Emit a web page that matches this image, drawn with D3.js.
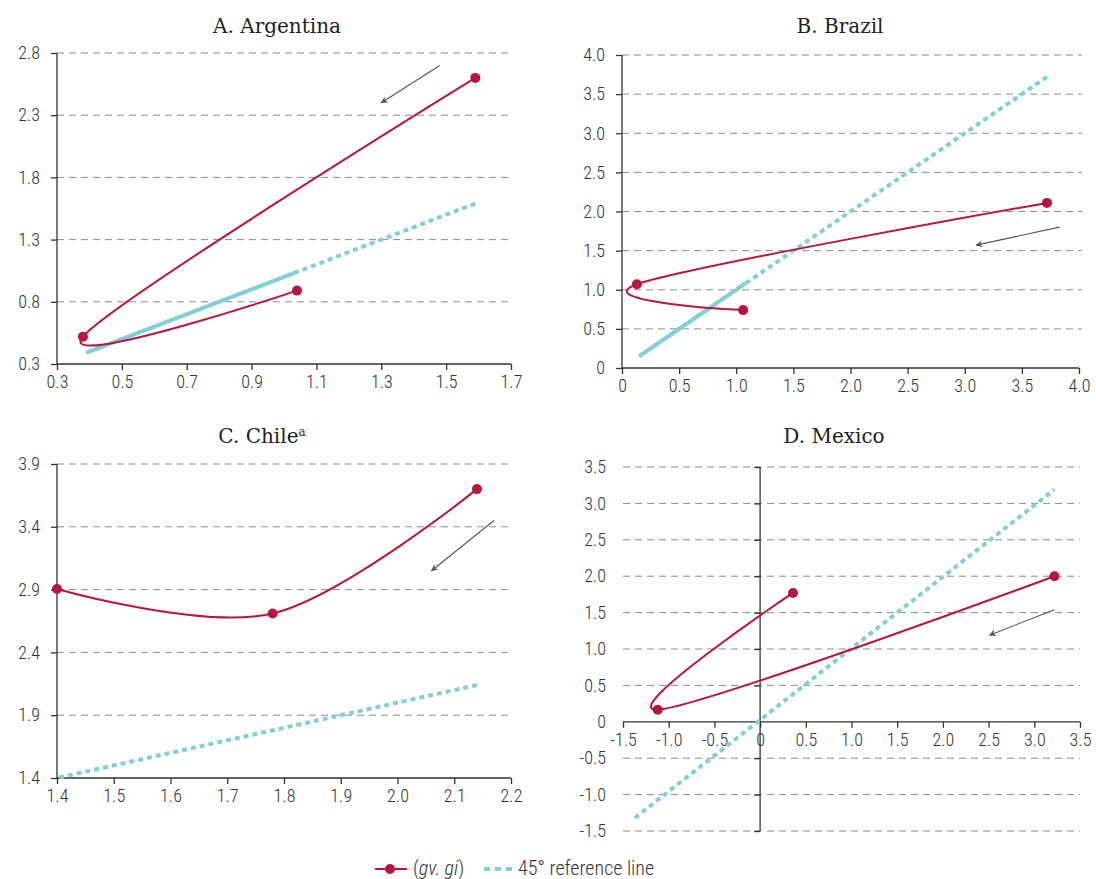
<!DOCTYPE html>
<html>
<head>
<meta charset="utf-8">
<script src="https://cdn.jsdelivr.net/npm/d3@7"></script>
<style>
  html, body { margin: 0; padding: 0; background: #fff; }
  svg { display: block; }
  .tick text { font-family: "Liberation Sans Narrow", "Roboto Condensed", "Roboto", "Liberation Sans", sans-serif; font-size: 18px; font-weight: 300; fill: #333; }
  .title { font-family: "DejaVu Serif", "Liberation Serif", serif; font-size: 20px; fill: #222; }
  .legend { font-family: "Liberation Sans Narrow", "Roboto Condensed", "Roboto", "Liberation Sans", sans-serif; font-size: 20px; font-weight: 300; fill: #333; }
</style>
</head>
<body>
<svg id="chart" width="1096" height="879"></svg>
<script>
// ---------- data ----------
const panelTitles = ["A. Argentina", "B. Brazil", "C. Chile", "D. Mexico"];
const seriesNames = ["(gv. gi)", "45° reference line"];

// A. Argentina
const argX = [1.59, 0.38, 1.04];
const argY = [2.60, 0.52, 0.89];
const argRefX = [1.59, 0.39, 1.04];
const argRefY = [1.59, 0.39, 1.04];
const argXTicks = [0.3, 0.5, 0.7, 0.9, 1.1, 1.3, 1.5, 1.7];
const argYTicks = [0.3, 0.8, 1.3, 1.8, 2.3, 2.8];
const argArrow = [[1.48, 2.70], [1.30, 2.40]];

// B. Brazil
const brzX = [3.72, 0.13, 1.06];
const brzY = [2.11, 1.07, 0.74];
const brzRefX = [3.72, 0.15, 1.08];
const brzRefY = [3.72, 0.15, 1.08];
const brzXTicks = [0, 0.5, 1.0, 1.5, 2.0, 2.5, 3.0, 3.5, 4.0];
const brzYTicks = [0, 0.5, 1.0, 1.5, 2.0, 2.5, 3.0, 3.5, 4.0];
const brzArrow = [[3.83, 1.80], [3.10, 1.57]];

// C. Chile
const chlX = [2.14, 1.78, 1.40];
const chlY = [3.70, 2.71, 2.905];
const chlRefX = [2.14, 1.78, 1.40];
const chlRefY = [2.14, 1.78, 1.40];
const chlXTicks = [1.4, 1.5, 1.6, 1.7, 1.8, 1.9, 2.0, 2.1, 2.2];
const chlYTicks = [1.4, 1.9, 2.4, 2.9, 3.4, 3.9];
const chlArrow = [[2.17, 3.45], [2.06, 3.05]];

// D. Mexico
const mexX = [3.22, -1.12, 0.36];
const mexY = [2.00, 0.165, 1.77];
const mexRefX = [-1.37, 3.22];
const mexRefY = [-1.32, 3.19];
const mexXTicks = [-1.5, -1.0, -0.5, 0, 0.5, 1.0, 1.5, 2.0, 2.5, 3.0, 3.5];
const mexYTicks = [-1.5, -1.0, -0.5, 0, 0.5, 1.0, 1.5, 2.0, 2.5, 3.0, 3.5];
const mexArrow = [[3.22, 1.54], [2.51, 1.19]];

// ---------- style ----------
const RED = "#b8163f";
const CYAN = "#82cfd8";
const GRID = "#8c8c8c";
const AXIS = "#333";
const DASH_ON = 5, DASH_OFF = 4;
const fmt = v => (v === 0 ? "0" : d3.format(".1f")(v).replace("\u2212", "-"));

const svg = d3.select("#chart");
const defs = svg.append("defs");
defs.append("marker")
  .attr("id", "arrowhead")
  .attr("viewBox", "0 0 10 10")
  .attr("refX", 9).attr("refY", 5)
  .attr("markerWidth", 9).attr("markerHeight", 7)
  .attr("markerUnits", "userSpaceOnUse")
  .attr("orient", "auto")
  .append("path").attr("d", "M0,0 L10,5 L0,10 L3,5 Z").attr("fill", "#555");

function panel(cfg) {
  const g = svg.append("g");
  const x = d3.scaleLinear().domain(cfg.xDomain).range(cfg.xRange);
  const y = d3.scaleLinear().domain(cfg.yDomain).range(cfg.yRange);
  const x0 = cfg.xRange[0], x1 = cfg.xRange[1];
  const yAxisX = cfg.yAxisAt !== undefined ? x(cfg.yAxisAt) : x0;
  const xAxisY = cfg.xAxisAt !== undefined ? y(cfg.xAxisAt) : cfg.yRange[0];

  // grid lines
  g.append("g").selectAll("line")
    .data(cfg.yTicks.filter(v => v !== (cfg.xAxisAt !== undefined ? cfg.xAxisAt : cfg.yDomain[0])))
    .join("line")
    .attr("x1", cfg.gridStart !== undefined ? cfg.gridStart : yAxisX)
    .attr("x2", cfg.gridEnd)
    .attr("y1", d => y(d)).attr("y2", d => y(d))
    .attr("stroke", GRID).attr("stroke-width", 1).attr("stroke-dasharray", "7,5");

  // y axis
  const yAxis = d3.axisLeft(y).tickValues(cfg.yTicks).tickFormat(fmt).tickSize(6).tickPadding(11);
  const ya = g.append("g").attr("transform", `translate(${yAxisX},0)`).call(yAxis);
  ya.select(".domain").attr("stroke", AXIS).attr("stroke-width", 1.3).attr("d", `M0,${cfg.yRange[0]}V${cfg.yRange[1]}`);
  ya.selectAll(".tick line").attr("stroke", AXIS).attr("stroke-width", 1.3);
  if (cfg.yLabelX !== undefined) {
    ya.selectAll(".tick text").attr("x", cfg.yLabelX - yAxisX);
  }

  // x axis
  const xAxis = d3.axisBottom(x).tickValues(cfg.xTicks).tickFormat(fmt).tickSize(6).tickPadding(5);
  const xa = g.append("g").attr("transform", `translate(0,${xAxisY})`).call(xAxis);
  xa.select(".domain").attr("stroke", AXIS).attr("stroke-width", 1.3).attr("d", `M${x0},0H${x1}`);
  xa.selectAll(".tick line").attr("stroke", AXIS).attr("stroke-width", 1.3);

  // title
  const t = g.append("text").attr("class", "title")
    .attr("x", cfg.titleX).attr("y", cfg.titleY).attr("text-anchor", "middle")
    .text(cfg.title);
  if (cfg.titleSup) {
    t.append("tspan").attr("font-size", "12px").attr("dy", "-7").text(cfg.titleSup);
  }

  // reference line (dashed polyline through the reference points)
  const refPts = cfg.refX.map((v, i) => [x(v), y(cfg.refY[i])]);
  g.append("path").datum(refPts)
    .attr("d", d3.line())
    .attr("fill", "none").attr("stroke", CYAN).attr("stroke-width", 4)
    .attr("stroke-dasharray", `${DASH_ON},${DASH_OFF}`);
  // where the reference line doubles back over itself, the two dash patterns
  // interleave (as in the original) and read as a solid stretch
  const period = DASH_ON + DASH_OFF;
  for (let k = 2; k < refPts.length; k++) {
    const a = refPts[0], p = refPts[k - 2], c = refPts[k - 1], b = refPts[k];
    const dot = (b[0] - c[0]) * (c[0] - p[0]) + (b[1] - c[1]) * (c[1] - p[1]);
    if (dot >= 0) continue; // no doubling back
    const D = Math.hypot(b[0] - a[0], b[1] - a[1]);
    g.append("path").datum([b, c])
      .attr("d", d3.line())
      .attr("fill", "none").attr("stroke", CYAN).attr("stroke-width", 4)
      .attr("stroke-dasharray", `${DASH_ON},${DASH_OFF}`)
      .attr("stroke-dashoffset", D + period / 2);
  }

  // data curve
  const pts = cfg.dx.map((v, i) => [v, cfg.dy[i]]);
  g.append("path").datum(pts)
    .attr("d", d3.line().x(d => x(d[0])).y(d => y(d[1])).curve(d3.curveCardinal.tension(0)))
    .attr("fill", "none").attr("stroke", RED).attr("stroke-width", 2);
  g.append("g").selectAll("circle").data(pts).join("circle")
    .attr("cx", d => x(d[0])).attr("cy", d => y(d[1])).attr("r", 5)
    .attr("fill", RED);

  // direction arrow
  g.append("line")
    .attr("x1", x(cfg.arrow[0][0])).attr("y1", y(cfg.arrow[0][1]))
    .attr("x2", x(cfg.arrow[1][0])).attr("y2", y(cfg.arrow[1][1]))
    .attr("stroke", "#555").attr("stroke-width", 1.1)
    .attr("marker-end", "url(#arrowhead)");
}

panel({
  title: panelTitles[0], titleX: 277, titleY: 33,
  xDomain: [0.3, 1.7], xRange: [57, 511], yDomain: [0.3, 2.8], yRange: [364, 53],
  xTicks: argXTicks, yTicks: argYTicks, gridEnd: 511,
  dx: argX, dy: argY, refX: argRefX, refY: argRefY, arrow: argArrow
});

panel({
  title: panelTitles[1], titleX: 840, titleY: 33,
  xDomain: [0, 4.0], xRange: [622, 1079], yDomain: [0, 4.0], yRange: [368, 55],
  xTicks: brzXTicks, yTicks: brzYTicks, gridEnd: 1082,
  dx: brzX, dy: brzY, refX: brzRefX, refY: brzRefY, arrow: brzArrow
});

panel({
  title: panelTitles[2], titleSup: "a", titleX: 262, titleY: 443,
  xDomain: [1.4, 2.2], xRange: [57, 511], yDomain: [1.4, 3.9], yRange: [778, 464],
  xTicks: chlXTicks, yTicks: chlYTicks, gridEnd: 511,
  dx: chlX, dy: chlY, refX: chlRefX, refY: chlRefY, arrow: chlArrow
});

panel({
  title: panelTitles[3], titleX: 834, titleY: 443,
  xDomain: [-1.5, 3.5], xRange: [623, 1080], yDomain: [-1.5, 3.5], yRange: [831, 467],
  xTicks: mexXTicks, yTicks: mexYTicks, gridStart: 623, gridEnd: 1080,
  yAxisAt: 0, xAxisAt: 0, yLabelX: 606,
  dx: mexX, dy: mexY, refX: mexRefX, refY: mexRefY, arrow: mexArrow
});

// ---------- legend ----------
const lg = svg.append("g");
lg.append("line").attr("x1", 375).attr("x2", 407).attr("y1", 869).attr("y2", 869)
  .attr("stroke", RED).attr("stroke-width", 2);
lg.append("circle").attr("cx", 390).attr("cy", 869).attr("r", 5).attr("fill", RED);
const lt = lg.append("text").attr("class", "legend").attr("x", 413).attr("y", 875);
lt.append("tspan").text("(");
lt.append("tspan").attr("font-style", "italic").text(seriesNames[0].slice(1, -1));
lt.append("tspan").text(")");
lg.append("line").attr("x1", 484).attr("x2", 512).attr("y1", 869).attr("y2", 869)
  .attr("stroke", CYAN).attr("stroke-width", 4).attr("stroke-dasharray", "6,5");
lg.append("text").attr("class", "legend").attr("x", 518).attr("y", 875).text(seriesNames[1]);
</script>
</body>
</html>
